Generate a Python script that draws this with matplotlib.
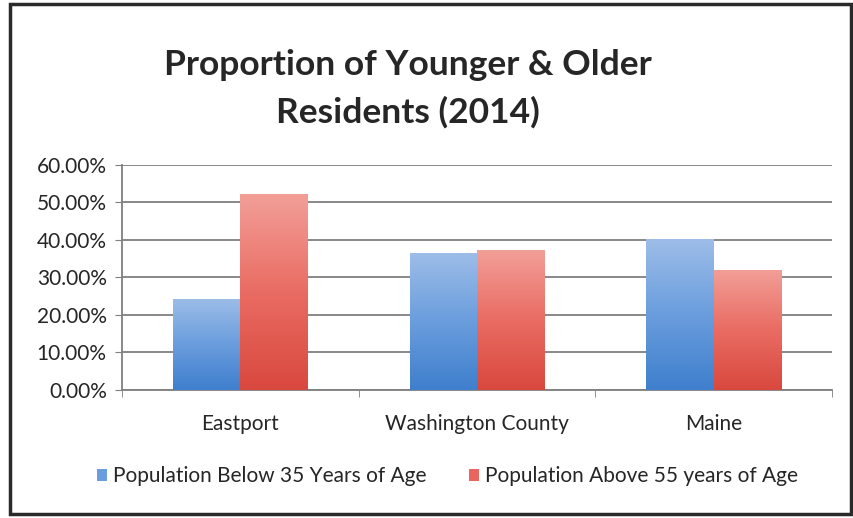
import numpy as np
import matplotlib.pyplot as plt
from matplotlib.colors import LinearSegmentedColormap
from matplotlib.patches import Patch, Rectangle
from matplotlib.ticker import FuncFormatter

# ----- data ----------------------------------------------------------------
categories = ["Eastport", "Washington County", "Maine"]
below_35 = [24.3, 36.4, 40.2]
above_55 = [52.2, 37.3, 32.0]
series_names = ["Population Below 35 Years of Age", "Population Above 55 years of Age"]
y_ticks = [0, 10, 20, 30, 40, 50, 60]

plt.rcParams["font.family"] = ["Lato", "DejaVu Sans"]

fig = plt.figure(figsize=(8.54, 5.18), dpi=100)
ax = fig.add_axes([0.1429, 0.2471, 0.8313, 0.4344])

blue_cmap = LinearSegmentedColormap.from_list("b", ["#3f7fcd", "#6a9ddd", "#9dbde8"])
red_cmap = LinearSegmentedColormap.from_list("r", ["#d9483e", "#e96c63", "#f29f98"])

x = np.arange(len(categories))
w = 0.285
bars_b = ax.bar(x - w / 2, below_35, w, color="#5b8fd6", zorder=2)
bars_r = ax.bar(x + w / 2, above_55, w, color="#e8665d", zorder=2)

# vertical gradient fill like the old office style
grad = np.linspace(0, 1, 256).reshape(-1, 1)
for bars, cmap in [(bars_b, blue_cmap), (bars_r, red_cmap)]:
    for b in bars:
        x0, y0 = b.get_x(), b.get_y()
        im = ax.imshow(grad, cmap=cmap, origin="lower", aspect="auto",
                       extent=[x0, x0 + b.get_width(), y0, y0 + b.get_height()],
                       zorder=3)
        im.set_clip_path(b)
        b.set_alpha(0)

ax.set_xlim(-0.5, len(categories) - 0.5)
ax.set_ylim(0, 60)
ax.set_yticks(y_ticks)
ax.yaxis.set_major_formatter(FuncFormatter(lambda v, p: f"{v:.2f}%"))
ax.yaxis.grid(True, color="#7f7f7f", lw=1.3, zorder=1)
ax.set_axisbelow(True)

ax.set_xticks(x)
ax.set_xticklabels(categories)
ax.set_xticks(np.arange(-0.5, len(categories)), minor=True)
ax.tick_params(axis="x", which="major", length=0, pad=17, labelsize=15, labelcolor="#262626")
ax.tick_params(axis="x", which="minor", length=5, color="#7f7f7f", direction="out")
ax.tick_params(axis="y", length=5, color="#7f7f7f", pad=6, labelsize=15, labelcolor="#262626")

for s in ["top", "right"]:
    ax.spines[s].set_visible(False)
for s in ["left", "bottom"]:
    ax.spines[s].set_color("#7f7f7f")
    ax.spines[s].set_linewidth(1.3)

fig.text(0.478, 0.874, "Proportion of Younger & Older", ha="center", va="center",
         fontsize=25.5, fontweight="bold", color="#262626")
fig.text(0.478, 0.783, "Residents (2014)", ha="center", va="center",
         fontsize=25.5, fontweight="bold", color="#262626")

handles = [Patch(facecolor="#6a9ddd"), Patch(facecolor="#e8665d")]
fig.legend(handles, series_names, loc="center", bbox_to_anchor=(0.524, 0.081),
           ncol=2, frameon=False, fontsize=15, handlelength=0.5, handleheight=0.5,
           handletextpad=0.3, columnspacing=2.0, labelcolor="#262626")

# outer chart frame
fig.patches.append(Rectangle((0.012, 0.008), 0.985, 0.985, transform=fig.transFigure,
                             fill=False, edgecolor="#2a2a2a", lw=2.5))

fig.savefig("out.png", dpi=100)
